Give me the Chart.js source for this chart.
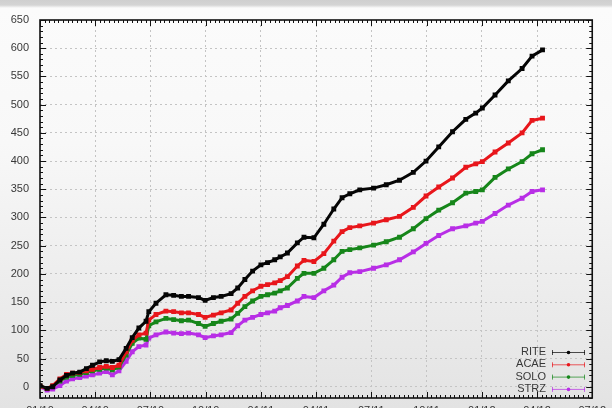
<!DOCTYPE html>
<html>
<head>
<meta charset="utf-8">
<script src="https://cdn.jsdelivr.net/npm/chart.js@4.4.1/dist/chart.umd.min.js"></script>
<style>
html, body { margin: 0; padding: 0; width: 612px; height: 408px; overflow: hidden; }
body { background: linear-gradient(to bottom, #cfcfcf 0px, #d4d4d4 5px, #fbfbfb 8px, #f8f8f8 35%, #e3e3e3 100%); position: relative; }
#myChart { position: absolute; left: -14px; top: 0; }
</style>
</head>
<body>
<canvas id="myChart" width="626" height="424"></canvas>
<script>
// x in axis units (one unit per vertical grid line)
const xPos = [0, 0.13, 0.23, 0.36, 0.48, 0.59, 0.72, 0.84, 0.95, 1.08, 1.2, 1.31, 1.43, 1.56, 1.67, 1.79, 1.92, 1.97,
    2.1, 2.28, 2.42, 2.56, 2.69, 2.87, 2.99, 3.14, 3.28, 3.46, 3.58, 3.71, 3.85, 4.0, 4.12, 4.25, 4.35, 4.48,
    4.66, 4.78, 4.96, 5.14, 5.32, 5.47, 5.61, 5.79, 6.04, 6.27, 6.51, 6.76, 6.99, 7.22, 7.47, 7.71, 7.89,
    8.01, 8.24, 8.48, 8.73, 8.91, 9.1];

const rite = [2, -3, 0, 12, 20, 24, 26, 32, 38, 44, 46, 45, 48, 68, 87, 104, 116, 133,
    148, 163, 162, 160, 160, 158, 153, 158, 160, 165, 175, 190, 205, 216, 220, 225, 230, 237,
    255, 265, 264, 288, 315, 335, 342, 349, 352, 358, 366, 380, 400, 425, 452, 474, 485,
    494, 517, 542, 564, 586, 597];
const acae = [1, -3, 2, 14, 22, 24, 25, 28, 31, 34, 36, 34, 38, 62, 82, 92, 95, 118,
    128, 134, 133, 131, 131, 128, 123, 127, 131, 136, 148, 160, 170, 178, 181, 184, 188, 195,
    214, 224, 222, 236, 258, 275, 282, 285, 290, 296, 302, 318, 338, 354, 370, 389, 395,
    399, 416, 432, 450, 472, 476];
const solo = [1, -3, 1, 10, 17, 20, 22, 25, 28, 31, 33, 30, 35, 56, 77, 86, 84, 108,
    115, 121, 119, 117, 118, 112, 107, 112, 116, 120, 130, 142, 152, 160, 163, 166, 170, 175,
    192, 201, 201, 210, 225, 240, 243, 246, 251, 257, 265, 280, 298, 313, 326, 343, 346,
    349, 371, 386, 399, 413, 420];
const strz = [0, -6, -4, 2, 10, 14, 16, 19, 21, 24, 27, 21, 28, 45, 62, 71, 74, 86,
    92, 97, 95, 94, 95, 92, 87, 90, 92, 96, 108, 118, 123, 128, 131, 134, 140, 144,
    152, 160, 158, 170, 180, 194, 202, 204, 210, 216, 225, 239, 254, 268, 280, 285, 290,
    293, 307, 322, 334, 346, 349];

const seriesNames = ['RITE', 'ACAE', 'SOLO', 'STRZ'];
const seriesColors = ['#050505', '#e8161b', '#16861a', '#b82ee6'];
const yTicks = [0, 50, 100, 150, 200, 250, 300, 350, 400, 450, 500, 550, 600, 650];
const xTicks = [0, 1, 2, 3, 4, 5, 6, 7, 8, 9, 10];
const xTickLabels = ['01/10', '04/10', '07/10', '10/10', '01/11', '04/11', '07/11', '10/11', '01/12', '04/12', '07/12'];

const allSeries = [rite, acae, solo, strz];

const ctx = document.getElementById('myChart');

// gnuplot-like frame: border, inward ticks and the key in the lower right
const gnuFrame = {
    id: 'gnuFrame',
    afterDraw(chart) {
        const c = chart.ctx;
        const a = chart.chartArea;
        const xs = chart.scales.x, ys = chart.scales.y;
        c.save();
        c.strokeStyle = '#111';
        c.lineWidth = 1.6;
        c.strokeRect(a.left, a.top, a.right - a.left, a.bottom - a.top);
        c.lineWidth = 1;
        c.beginPath();
        for (let v = -20; v <= 650; v += 10) {
            const y = Math.round(ys.getPixelForValue(v)) + 0.5;
            const len = v % 50 === 0 ? 6 : 3;
            c.moveTo(a.left, y); c.lineTo(a.left + len, y);
            c.moveTo(a.right, y); c.lineTo(a.right - len, y);
        }
        for (let i = 0; i <= 120; i++) {
            const x = Math.round(xs.getPixelForValue(i / 12)) + 0.5;
            const len = i % 12 === 0 ? 6 : 3;
            c.moveTo(x, a.bottom); c.lineTo(x, a.bottom - len);
            c.moveTo(x, a.top); c.lineTo(x, a.top + len);
        }
        c.stroke();

        // key
        c.font = '11px "Liberation Sans", Arial, sans-serif';
        c.textAlign = 'right';
        c.textBaseline = 'middle';
        chart.data.datasets.forEach((ds, i) => {
            const y = 352 + i * 12.3;
            c.fillStyle = '#383838';
            c.fillText(ds.label, 560, y);
            c.strokeStyle = ds.borderColor;
            c.globalAlpha = 0.7;
            c.lineWidth = 1;
            c.beginPath();
            c.moveTo(566, y + 0.5); c.lineTo(599, y + 0.5);
            c.moveTo(566.5, y - 2); c.lineTo(566.5, y + 3);
            c.moveTo(598.5, y - 2); c.lineTo(598.5, y + 3);
            c.stroke();
            c.globalAlpha = 1;
            c.fillStyle = ds.borderColor;
            c.beginPath();
            c.arc(582.5, y + 0.5, 1.8, 0, Math.PI * 2);
            c.fill();
        });
        c.restore();
    }
};

new Chart(ctx, {
    type: 'line',
    data: {
        datasets: allSeries.map((s, i) => ({
            label: seriesNames[i],
            data: s.map((v, j) => ({ x: xPos[j], y: v })),
            borderColor: seriesColors[i],
            backgroundColor: seriesColors[i],
            borderWidth: 3,
            pointRadius: 1.3,
            pointStyle: 'rect',
            tension: 0,
        }))
    },
    options: {
        responsive: false,
        animation: false,
        layout: { padding: { top: 20, right: 14, left: 0, bottom: 0 } },
        plugins: {
            legend: { display: false },
            tooltip: { enabled: false },
        },
        scales: {
            x: {
                type: 'linear',
                min: 0,
                max: 10,
                afterBuildTicks: (scale) => { scale.ticks = xTicks.map(v => ({ value: v })); },
                afterFit: (scale) => { scale.height = 26; },
                grid: { color: '#c4c4c4', drawTicks: false },
                border: { display: false, dash: [2, 3] },
                ticks: {
                    padding: 6,
                    color: '#383838',
                    font: { size: 11, family: '"Liberation Sans", Arial, sans-serif' },
                    maxRotation: 0,
                    callback: function (value, index) {
                        return xTickLabels[index];
                    },
                }
            },
            y: {
                min: -20,
                max: 650,
                afterBuildTicks: (scale) => { scale.ticks = yTicks.map(v => ({ value: v })); },
                afterFit: (scale) => { scale.width = 54; },
                grid: { color: '#c4c4c4', drawTicks: false },
                border: { display: false, dash: [2, 3] },
                ticks: {
                    padding: 11,
                    color: '#383838',
                    font: { size: 11, family: '"Liberation Sans", Arial, sans-serif' },
                }
            }
        }
    },
    plugins: [gnuFrame]
});
</script>
</body>
</html>
